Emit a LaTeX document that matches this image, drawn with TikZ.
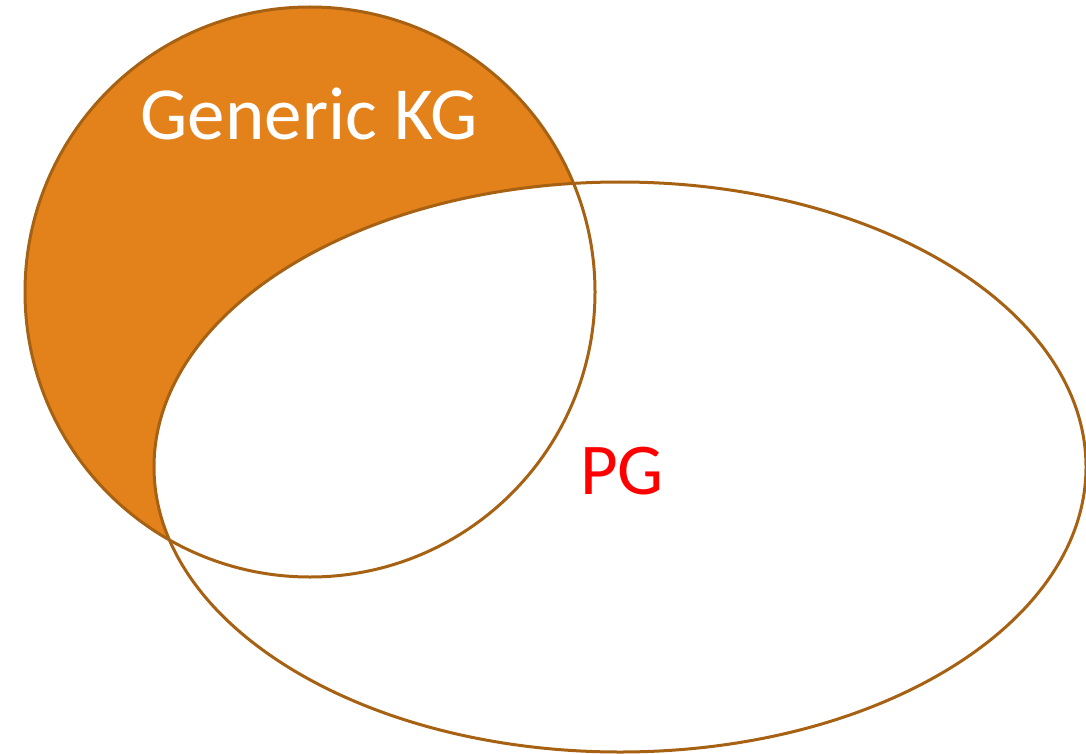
\documentclass[tikz,border=0pt]{standalone}
\usepackage{fontspec}
\setmainfont{Carlito}
\usepackage{tikz}

\definecolor{kgfill}{HTML}{E3821A}
\definecolor{kgline}{HTML}{A66112}

\begin{document}
\begin{tikzpicture}[x=1pt,y=-1pt]
    \useasboundingbox (0,0) rectangle (1086,754);
    \fill[kgfill] (310,292) circle (285);
    \fill[white] (620,467) ellipse (466 and 285);
    \draw[kgline,line width=3pt] (310,292) circle (285);
    \draw[kgline,line width=3pt] (620,467) ellipse (466 and 285);
    \node[anchor=base,text=white,font=\fontsize{75}{90}\selectfont] (kg) at (309,140) {Generic KG};
    \node[anchor=base,text=red,font=\fontsize{73}{88}\selectfont] (pg) at (622,494) {PG};
\end{tikzpicture}
\end{document}
